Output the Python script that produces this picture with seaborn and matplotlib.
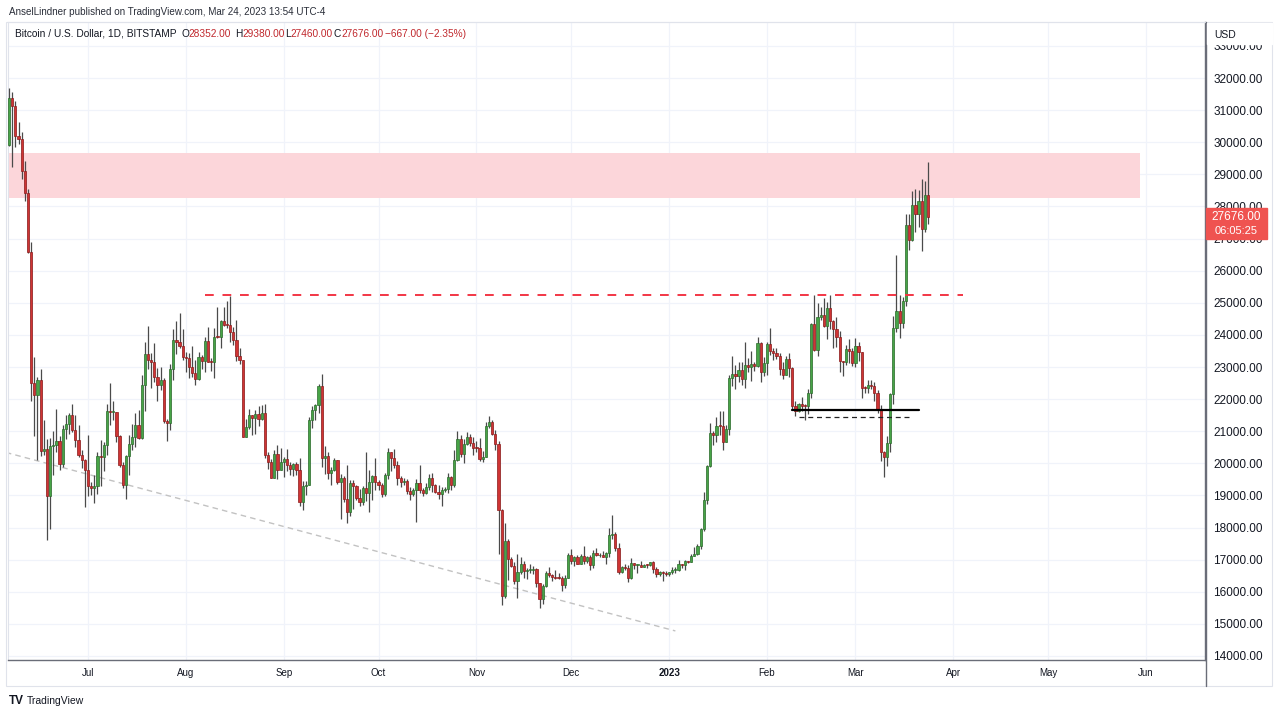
import pandas as pd
import matplotlib
matplotlib.use("Agg")
import matplotlib.pyplot as plt
import matplotlib.dates as mdates
from matplotlib.patches import Rectangle
from matplotlib.lines import Line2D
import seaborn as sns

sns.set_theme(style="white")
plt.rcParams["font.family"] = ["Liberation Sans", "DejaVu Sans"]

# daily candles, BITSTAMP BTC/USD, 2022-06-06 .. 2023-03-24
dates = pd.date_range("2022-06-06", "2023-03-24", freq="D")
first_open = 29900
last_open = 28352

closes = [
    # Jun 6-30
    31370, 31130, 30200, 30110, 29090, 28420, 26570, 22490, 22130, 22580, 20380, 20450, 18990,
    20550, 20570, 20710, 19970, 21080, 21230, 21500, 21040, 20730, 20270, 20100, 19780,
    # Jul
    19300, 19240, 19300, 20230, 20190, 20560, 21630, 21590, 21590, 20850, 19960, 19330, 20220,
    20590, 20830, 21200, 20790, 22430, 23400, 23230, 23160, 22680, 22450, 22580, 21310, 21250,
    22950, 23850, 23770, 23640, 23300,
    # Aug
    23270, 22990, 22820, 22620, 23310, 23180, 23810, 23160, 23150, 23950, 23930, 24440, 24310,
    24300, 24100, 23850, 23330, 23210, 20830, 21140, 21520, 21400, 21530, 21370, 21570, 20250,
    20030, 19550, 20280, 19800, 20050,
    # Sep
    20130, 19950, 19830, 19990, 19790, 18790, 19290, 19320, 21360, 21650, 21830, 22400, 20170,
    20230, 19700, 19800, 20110, 19420, 19540, 18880, 18480, 19400, 19290, 18920, 18800, 19220,
    19080, 19410, 19590, 19420,
    # Oct
    19310, 19060, 19630, 20340, 20160, 19960, 19530, 19420, 19450, 19130, 19060, 19160, 19380,
    19180, 19070, 19260, 19550, 19330, 19120, 19040, 19170, 19210, 19570, 19330, 20090, 20770,
    20290, 20600, 20810, 20630, 20490,
    # Nov
    20480, 20150, 20210, 21150, 21300, 20920, 20600, 18540, 15880, 17590, 17030, 16800, 16330,
    16610, 16880, 16650, 16680, 16690, 16700, 16280, 15780, 16190, 16600, 16520, 16460, 16440,
    16420, 16200, 16440, 17160,
    # Dec
    16970, 17090, 16880, 17100, 16960, 17090, 16830, 17220, 17130, 17130, 17090, 17200, 17780,
    17800, 17350, 16630, 16780, 16740, 16430, 16890, 16820, 16820, 16770, 16840, 16830, 16920,
    16700, 16540, 16630, 16600, 16540,
    # Jan 2023
    16610, 16670, 16670, 16850, 16830, 16950, 16940, 17120, 17180, 17440, 17940, 18850, 19930,
    20950, 20870, 21170, 21160, 20680, 21070, 22670, 22780, 22710, 22920, 22620, 23060, 23010,
    23080, 23030, 23740, 22830, 23130,
    # Feb
    23730, 23490, 23430, 23330, 22930, 22760, 23250, 22960, 21800, 21630, 21860, 21790, 21780,
    22200, 24330, 23520, 24570, 24630, 24280, 24840, 24440, 24190, 23950, 23190, 23150, 23560,
    23500, 23140,
    # Mar 1-24
    23650, 23470, 22360, 22350, 22430, 22410, 22200, 21700, 20360, 20190, 20620, 22160, 24200,
    24750, 24380, 25050, 27430, 26970, 28040, 27770, 28170, 27300, 28343, 27676,
]

highs = [
    31700, 31550, 31300, 30640, 30330, 29430, 28550, 26890, 23300, 22680, 22950, 21340, 20750,
    20800, 21000, 21700, 20860, 21200, 21500, 21580, 21850, 21520, 21180, 20410, 20150,
    20870, 19430, 19640, 20350, 20720, 20670, 21840, 22500, 21950, 21600, 20880, 20040, 20250,
    20880, 21210, 21560, 21660, 22750, 23780, 24280, 23430, 23760, 22980, 23000, 22660, 21370,
    23080, 24190, 24430, 24670, 24190,
    23470, 23450, 23650, 23220, 23460, 23360, 23940, 24240, 23280, 24200, 24880, 24460, 24880,
    25050, 25210, 24250, 24450, 23600, 23210, 21370, 21700, 21520, 21650, 21800, 21810, 21850,
    20340, 20150, 20400, 20560, 20480,
    20200, 20440, 20050, 20000, 20050, 20160, 19450, 19460, 21430, 21790, 21840, 22480, 22790,
    20540, 20340, 19880, 20180, 20110, 19680, 19620, 19950, 19480, 19490, 19310, 19190, 19300,
    20360, 19780, 19640, 20180,
    19480, 19400, 19700, 20470, 20360, 20450, 20060, 19620, 19540, 19520, 19250, 19220, 19510,
    19950, 19220, 19400, 19670, 19700, 19350, 19340, 19250, 19250, 19700, 19600, 20400, 21000,
    20870, 20750, 20990, 20910, 20820,
    20690, 20790, 20390, 21300, 21470, 21360, 21050, 20690, 18590, 18150, 17650, 17080, 16930,
    17180, 17080, 16950, 16750, 16880, 16810, 16730, 16280, 16240, 16650, 16780, 16540, 16680,
    16580, 16480, 16530, 17220,
    17320, 17100, 17160, 17190, 17420, 17100, 17130, 17300, 17350, 17220, 17260, 17240, 18000,
    18380, 17850, 17530, 16800, 16860, 16820, 17050, 16900, 16860, 16950, 16870, 16860, 16940,
    16960, 16780, 16660, 16640, 16640,
    16630, 16770, 16760, 16990, 16880, 16990, 16970, 17170, 17390, 17490, 17990, 19100, 19960,
    21250, 21010, 21440, 21620, 21640, 21190, 22750, 23350, 23060, 23160, 23170, 23780, 23270,
    23500, 23170, 23950, 23790, 23300,
    23770, 24230, 23590, 23580, 23430, 23150, 23350, 23450, 22990, 21940, 21890, 22080, 21860,
    22320, 24380, 25230, 24980, 24870, 25140, 25040, 25240, 24470, 24570, 24130, 23200, 23680,
    23880, 23600,
    23900, 23780, 23480, 22420, 22610, 22610, 22540, 22270, 21810, 20370, 20850, 22200, 24600,
    26500, 25250, 25190, 27750, 27750, 28470, 28530, 28520, 28850, 28780, 29380,
]

lows = [
    29880, 29220, 29850, 29950, 28870, 28170, 26560, 21930, 20840, 20100, 20240, 20250, 17600,
    17940, 19650, 20360, 19790, 19890, 20760, 20920, 20970, 20510, 20200, 19870, 18630,
    18970, 19000, 18780, 19050, 19300, 19770, 20260, 21180, 21340, 20660, 19900, 19240, 18900,
    19630, 20400, 20510, 20760, 20760, 21640, 22940, 22360, 22530, 21950, 22270, 21270, 20710,
    21050, 22580, 23420, 23580, 23230,
    22850, 22660, 22690, 22430, 22590, 22950, 22860, 23160, 22870, 22670, 23900, 23600, 24290,
    24200, 23780, 23700, 23190, 23080, 20810, 20830, 21070, 20880, 20900, 21160, 21340, 20160,
    19810, 19540, 19570, 19520, 19830,
    19570, 19760, 19650, 19600, 19640, 18680, 18540, 19020, 19310, 21110, 21360, 21570, 19900,
    19660, 19520, 19330, 19760, 19360, 18270, 18800, 18150, 18370, 18570, 18860, 18670, 18690,
    18830, 18480, 18860, 19180,
    19160, 18960, 18970, 19500, 19750, 19860, 19330, 19260, 19320, 19030, 18860, 18980, 18180,
    19080, 18980, 19060, 19170, 19100, 19070, 18900, 18680, 19110, 19080, 19160, 19250, 20060,
    20200, 20010, 20560, 20530, 20250,
    20360, 20060, 20040, 20190, 21090, 20890, 20400, 17170, 15600, 15800, 16380, 16760, 16250,
    15820, 16550, 16440, 16400, 16570, 16560, 16150, 15480, 15630, 16160, 16460, 16320, 16400,
    16400, 16010, 16120, 16420,
    16860, 16790, 16860, 16880, 16870, 16910, 16690, 16740, 17100, 17090, 17070, 16870, 17080,
    17650, 17280, 16550, 16580, 16670, 16300, 16400, 16710, 16580, 16770, 16780, 16730, 16790,
    16600, 16470, 16500, 16340, 16490,
    16490, 16550, 16600, 16660, 16750, 16670, 16910, 16920, 17100, 17140, 17320, 17900, 18730,
    19880, 20560, 20650, 20870, 20420, 20660, 20870, 22420, 22300, 22530, 22450, 22340, 22840,
    22550, 22870, 23000, 22530, 22720,
    22760, 23370, 23230, 23260, 22750, 22630, 22740, 22690, 21680, 21460, 21600, 21630, 21360,
    21530, 22050, 23510, 23340, 24450, 24250, 23880, 24170, 23600, 23630, 22850, 22720, 23070,
    23120, 23030,
    23010, 23200, 22050, 22200, 22190, 22330, 21950, 21580, 20060, 19570, 19920, 20360, 21860,
    24100, 23900, 24200, 24900, 26650, 26920, 27200, 27370, 26620, 27200, 27460,
]

# drawings on the chart
zone_dates = ["2022-06-01", "2023-05-30"]
zone_low, zone_high = 28260, 29660
resist_dates = ["2022-08-07", "2023-04-04"]
resist_price = 25240
support_dates = ["2023-02-09", "2023-03-21"]
support_price = 21660
support2_dates = ["2023-02-11", "2023-03-19"]
support2_price = 21440
trend_dates = ["2022-06-05", "2023-01-03"]
trend_prices = [20340, 14780]

month_ticks = pd.date_range("2022-07-01", "2023-06-01", freq="MS")
month_labels = ["Jul", "Aug", "Sep", "Oct", "Nov", "Dec", "2023", "Feb", "Mar", "Apr", "May", "Jun"]
price_ticks = list(range(14000, 34000, 1000))

df = pd.DataFrame({"date": dates, "close": closes, "high": highs, "low": lows})
df["open"] = [first_open] + closes[:-1]
df.loc[df.index[-1], "open"] = last_open
df["x"] = mdates.date2num(df["date"])
df["high"] = df[["high", "open", "close"]].max(axis=1)
df["low"] = df[["low", "open", "close"]].min(axis=1)
df["bottom"] = df[["open", "close"]].min(axis=1)
df["height"] = (df["close"] - df["open"]).abs().clip(lower=30)
up = df["close"] >= df["open"]

W, H = 1280, 716
fig = plt.figure(figsize=(12.8, 7.16), dpi=100)
ax = fig.add_axes([8 / W, (H - 660) / H, 1197 / W, 638 / H])


def px(x, y):
    return x / W, 1 - y / H


def dnum(s):
    return mdates.date2num(pd.Timestamp(s))


# supply zone
ax.fill_between([dnum(d) for d in zone_dates], zone_low, zone_high,
                color="#fcd6da", lw=0, zorder=1)

# trend / level lines
sns.lineplot(x=[dnum(d) for d in trend_dates], y=trend_prices, ax=ax,
             color="#c2c2c2", lw=1.0, linestyle=(0, (4, 3)), zorder=2)
sns.lineplot(x=[dnum(d) for d in resist_dates], y=[resist_price] * 2, ax=ax,
             color="#f23645", lw=1.4, linestyle=(0, (4.5, 4.5)), zorder=5)
sns.lineplot(x=[dnum(d) for d in support_dates], y=[support_price] * 2, ax=ax,
             color="#000000", lw=1.6, zorder=5)
sns.lineplot(x=[dnum(d) for d in support2_dates], y=[support2_price] * 2, ax=ax,
             color="#222222", lw=0.9, linestyle=(0, (4, 3)), zorder=5)

# candles
ax.vlines(df["x"], df["low"], df["high"], color="#4a4a4a", lw=0.9, zorder=3)
ax.bar(df["x"][up], df["height"][up], bottom=df["bottom"][up], width=0.7,
       color="#47a447", edgecolor="#2b6b2b", linewidth=0.5, zorder=4)
ax.bar(df["x"][~up], df["height"][~up], bottom=df["bottom"][~up], width=0.7,
       color="#cf3434", edgecolor="#8a1a1a", linewidth=0.5, zorder=4)

x0 = dnum("2022-07-01")
ax.set_xlim(x0 - 25.33, x0 + 353.7)
ax.set_ylim(13875, 33745)

ax.set_xticks(mdates.date2num(month_ticks))
ax.set_xticklabels(month_labels, fontsize=7, color="#131722")
for lab in ax.get_xticklabels():
    if lab.get_text() == "2023":
        lab.set_fontweight("bold")
ax.yaxis.tick_right()
ax.set_yticks(price_ticks)
ax.set_yticklabels([f"{v:.2f}" for v in price_ticks], fontsize=8.5, color="#131722")
ax.tick_params(axis="x", length=0, pad=6)
ax.tick_params(axis="y", length=0, pad=6)
ax.grid(True, color="#f0f3fa", lw=0.9, zorder=0)
ax.set_axisbelow(True)
for side in ["left", "top"]:
    ax.spines[side].set_color("#e0e3eb")
    ax.spines[side].set_linewidth(0.8)
for side in ["right", "bottom"]:
    ax.spines[side].set_color("#6a6d78")
    ax.spines[side].set_linewidth(1.0)

# outer pane frame and price-scale border
fig.add_artist(Rectangle(px(6, 686), 1266 / W, 664 / H, fill=False,
                         edgecolor="#e0e3eb", lw=0.8, transform=fig.transFigure, zorder=1))
fig.add_artist(Line2D([1205.5 / W] * 2, [px(0, 22)[1], px(0, 686)[1]],
                      color="#6a6d78", lw=1.0, transform=fig.transFigure, zorder=6))

# mask top of scale, USD caption
fig.add_artist(Rectangle(px(1206.5, 44), 65 / W, 21 / H, color="white",
                         transform=fig.transFigure, zorder=6))
fig.text(*px(1214, 35), "USD", fontsize=7.5, color="#131722", va="center", zorder=7)

# last price tag
last = df.iloc[-1]
prev_close = df["close"].iloc[-2]
fig.add_artist(Rectangle(px(1206, 239), 61 / W, 31 / H, color="#ef5350",
                         transform=fig.transFigure, zorder=6))
fig.text(*px(1236.5, 217), f"{last['close']:.2f}", fontsize=8.5, color="white",
         ha="center", va="center", zorder=7)
fig.text(*px(1236.5, 231), "06:05:25", fontsize=8, color="white",
         ha="center", va="center", zorder=7)

# header
fig.text(*px(9, 12), "AnselLindner published on TradingView.com, Mar 24, 2023 13:54 UTC-4",
         fontsize=7.1, color="#2a2e39", va="center")
dark, red = "#131722", "#c0282d"
chg = last["close"] - prev_close
pct = chg / prev_close * 100
pieces = [
    ("Bitcoin / U.S. Dollar, 1D, BITSTAMP", 15, dark),
    ("O", 182, dark), (f"{last['open']:.2f}", 188.5, red),
    ("H", 235, dark), (f"{last['high']:.2f}", 242, red),
    ("L", 285.5, dark), (f"{last['low']:.2f}", 290.5, red),
    ("C", 334, dark), (f"{last['close']:.2f}", 341, red),
    (f"\u2212{abs(chg):.2f} (\u2212{abs(pct):.2f}%)", 385, red),
]
for txt, xx, col in pieces:
    fig.text(*px(xx, 34), txt, fontsize=7.3, color=col, va="center", zorder=7)

# footer logo
fig.text(*px(9, 701), "TV", fontsize=8.5, fontweight="heavy", color="#131722", va="center")
fig.text(*px(27, 701), "TradingView", fontsize=7.5, color="#131722", va="center")

fig.savefig("out.png", dpi=100)
